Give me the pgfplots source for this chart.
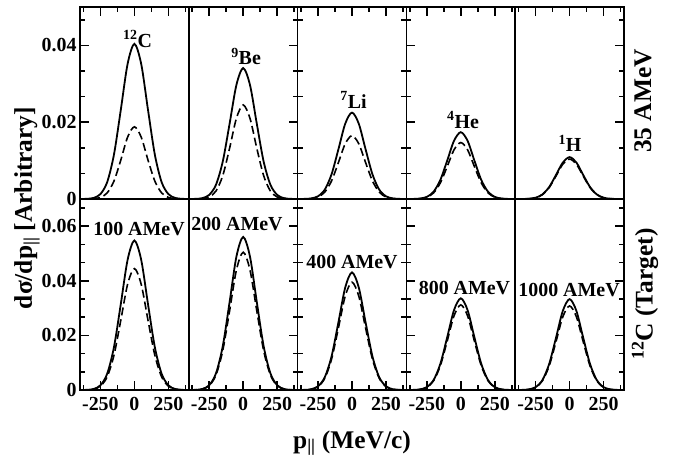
\documentclass[border=0pt]{standalone}
\usepackage{fontspec}
\setmainfont{Liberation Serif}
\usepackage{pgfplots}
\pgfplotsset{compat=1.18}
\usepackage{pgfplotstable}

% 35 AMeV fragments: solid and dashed curves per fragment
\pgfplotstableread{
x    cs      cd      bes     bed     lis     lid     hes     hed     hs      hd
-400 0.00001 0.00000 0.00000 0.00000 0.00000 0.00000 0.00000 0.00000 0.00000 0.00000
-350 0.00005 0.00001 0.00004 0.00001 0.00003 0.00002 0.00002 0.00002 0.00001 0.00001
-300 0.00028 0.00007 0.00023 0.00010 0.00015 0.00011 0.00012 0.00010 0.00007 0.00007
-250 0.00127 0.00040 0.00107 0.00052 0.00071 0.00052 0.00055 0.00046 0.00034 0.00033
-200 0.00440 0.00159 0.00372 0.00208 0.00245 0.00180 0.00190 0.00160 0.00119 0.00113
-150 0.01162 0.00469 0.00980 0.00611 0.00647 0.00474 0.00500 0.00423 0.00313 0.00299
-100 0.02322 0.01014 0.01960 0.01322 0.01293 0.00948 0.01000 0.00845 0.00626 0.00598
-50  0.03518 0.01611 0.02969 0.02100 0.01959 0.01437 0.01515 0.01280 0.00949 0.00906
0    0.04040 0.01880 0.03410 0.02450 0.02250 0.01650 0.01740 0.01470 0.01090 0.01040
50   0.03518 0.01611 0.02969 0.02100 0.01959 0.01437 0.01515 0.01280 0.00949 0.00906
100  0.02322 0.01014 0.01960 0.01322 0.01293 0.00948 0.01000 0.00845 0.00626 0.00598
150  0.01162 0.00469 0.00980 0.00611 0.00647 0.00474 0.00500 0.00423 0.00313 0.00299
200  0.00440 0.00159 0.00372 0.00208 0.00245 0.00180 0.00190 0.00160 0.00119 0.00113
250  0.00127 0.00040 0.00107 0.00052 0.00071 0.00052 0.00055 0.00046 0.00034 0.00033
300  0.00028 0.00007 0.00023 0.00010 0.00015 0.00011 0.00012 0.00010 0.00007 0.00007
350  0.00005 0.00001 0.00004 0.00001 0.00003 0.00002 0.00002 0.00002 0.00001 0.00001
400  0.00001 0.00000 0.00000 0.00000 0.00000 0.00000 0.00000 0.00000 0.00000 0.00000
}\toprow

% 12C target at 100 ... 1000 AMeV
\pgfplotstableread{
x    as      ad      bs      bd      cs      cd      ds      dd      es      ed
-400 0.00001 0.00001 0.00001 0.00001 0.00001 0.00001 0.00000 0.00000 0.00000 0.00000
-350 0.00006 0.00005 0.00006 0.00006 0.00005 0.00004 0.00004 0.00004 0.00004 0.00003
-300 0.00037 0.00030 0.00038 0.00035 0.00029 0.00027 0.00023 0.00021 0.00023 0.00021
-250 0.00172 0.00140 0.00176 0.00158 0.00135 0.00124 0.00105 0.00098 0.00104 0.00097
-200 0.00597 0.00485 0.00612 0.00551 0.00470 0.00431 0.00366 0.00340 0.00363 0.00336
-150 0.01576 0.01279 0.01613 0.01452 0.01239 0.01136 0.00966 0.00897 0.00957 0.00886
-100 0.03149 0.02557 0.03224 0.02902 0.02477 0.02270 0.01931 0.01793 0.01914 0.01770
-50  0.04771 0.03875 0.04885 0.04397 0.03753 0.03439 0.02926 0.02717 0.02899 0.02682
0    0.05480 0.04450 0.05610 0.05050 0.04310 0.03950 0.03360 0.03120 0.03330 0.03080
50   0.04771 0.03875 0.04885 0.04397 0.03753 0.03439 0.02926 0.02717 0.02899 0.02682
100  0.03149 0.02557 0.03224 0.02902 0.02477 0.02270 0.01931 0.01793 0.01914 0.01770
150  0.01576 0.01279 0.01613 0.01452 0.01239 0.01136 0.00966 0.00897 0.00957 0.00886
200  0.00597 0.00485 0.00612 0.00551 0.00470 0.00431 0.00366 0.00340 0.00363 0.00336
250  0.00172 0.00140 0.00176 0.00158 0.00135 0.00124 0.00105 0.00098 0.00104 0.00097
300  0.00037 0.00030 0.00038 0.00035 0.00029 0.00027 0.00023 0.00021 0.00023 0.00021
350  0.00006 0.00005 0.00006 0.00006 0.00005 0.00004 0.00004 0.00004 0.00004 0.00003
400  0.00001 0.00001 0.00001 0.00001 0.00001 0.00001 0.00000 0.00000 0.00000 0.00000
}\botrow

\newcommand{\tickfont}{\fontsize{20}{20}\selectfont\bfseries}
\newcommand{\labfont}{\fontsize{20}{20}\selectfont\bfseries}
\newcommand{\axfont}{\fontsize{25.5}{25.5}\selectfont\bfseries}

\tikzset{lab/.style={font=\labfont, anchor=base}}

\pgfplotsset{
  panel/.style={
    scale only axis, width=108.8bp, anchor=north west,
    xmin=-400, xmax=400, ymin=0,
    xtick={-250,0,250}, minor xtick={-375,-125,125,375},
    scaled x ticks=false, scaled y ticks=false,
    axis line style={line width=1.7bp},
    tick align=inside,
    xtick style={draw=black, line width=1.6bp},
    ytick style={draw=black, line width=1.6bp},
    major tick length=9bp, minor tick length=5bp,
    tick label style={font=\tickfont},
    clip=false,
  },
  top/.style={panel, height=192bp, ymax=0.05,
    ytick={0,0.02,0.04},
    minor ytick={0.006667,0.013333,0.026667,0.033333,0.046667},
    xtick pos=upper, xticklabel=\empty},
  bot/.style={panel, height=191bp, ymax=0.07,
    ytick={0,0.02,0.04,0.06},
    minor ytick={0.006667,0.013333,0.026667,0.033333,0.046667,0.053333,0.066667},
    xtick pos=lower,
    xticklabels={\textbf{-250},\textbf{0},\textbf{250}},
    xticklabel style={yshift=-4bp}},
  yl/.style={ytick pos=left},
  yr/.style={ytick pos=right, yticklabel=\empty},
  yln/.style={ytick pos=left, yticklabel=\empty},
  yn/.style={ymajorticks=false, yminorticks=false},
  sol/.style={black, line width=1.8bp, smooth, no markers},
  das/.style={black, line width=1.6bp, smooth, no markers, dash pattern=on 8bp off 4bp},
}

\begin{document}
\begin{tikzpicture}
% upper row: fragments at 35 AMeV
\begin{axis}[top, yl, at={(80bp,-7bp)},
  yticklabels={\textbf{0},\textbf{0.02},\textbf{0.04}}]
  \addplot[sol] table[x=x, y=cs] {\toprow};
  \addplot[das] table[x=x, y=cd] {\toprow};
  \node[lab] at (axis cs:23,0.0395) {\textsuperscript{12}C};
\end{axis}
\begin{axis}[top, yr, at={(188.8bp,-7bp)}]
  \addplot[sol] table[x=x, y=bes] {\toprow};
  \addplot[das] table[x=x, y=bed] {\toprow};
  \node[lab] at (axis cs:21,0.0349) {\textsuperscript{9}Be};
\end{axis}
\begin{axis}[top, yn, at={(297.6bp,-7bp)}]
  \addplot[sol] table[x=x, y=lis] {\toprow};
  \addplot[das] table[x=x, y=lid] {\toprow};
  \node[lab] at (axis cs:11,0.0236) {\textsuperscript{7}Li};
\end{axis}
\begin{axis}[top, yln, at={(406.4bp,-7bp)}]
  \addplot[sol] table[x=x, y=hes] {\toprow};
  \addplot[das] table[x=x, y=hed] {\toprow};
  \node[lab] at (axis cs:16,0.0184) {\textsuperscript{4}He};
\end{axis}
\begin{axis}[top, yr, at={(515.2bp,-7bp)}]
  \addplot[sol] table[x=x, y=hs] {\toprow};
  \addplot[das] table[x=x, y=hd] {\toprow};
  \node[lab] at (axis cs:3,0.0123) {\textsuperscript{1}H};
\end{axis}

% lower row: 12C target at several beam energies
\begin{axis}[bot, yl, at={(80bp,-199bp)},
  yticklabels={\textbf{0},\textbf{0.02},\textbf{0.04},\textbf{0.06}}]
  \addplot[sol] table[x=x, y=as] {\botrow};
  \addplot[das] table[x=x, y=ad] {\botrow};
  \node[lab] at (axis cs:34,0.0568) {100 AMeV};
\end{axis}
\begin{axis}[bot, yr, at={(188.8bp,-199bp)}]
  \addplot[sol] table[x=x, y=bs] {\botrow};
  \addplot[das] table[x=x, y=bd] {\botrow};
  \node[lab] at (axis cs:-46,0.0586) {200 AMeV};
\end{axis}
\begin{axis}[bot, yn, at={(297.6bp,-199bp)}]
  \addplot[sol] table[x=x, y=cs] {\botrow};
  \addplot[das] table[x=x, y=cd] {\botrow};
  \node[lab] at (axis cs:0,0.0446) {400 AMeV};
\end{axis}
\begin{axis}[bot, yln, at={(406.4bp,-199bp)}]
  \addplot[sol] table[x=x, y=ds] {\botrow};
  \addplot[das] table[x=x, y=dd] {\botrow};
  \node[lab] at (axis cs:27,0.0351) {800 AMeV};
\end{axis}
\begin{axis}[bot, yr, at={(515.2bp,-199bp)}]
  \addplot[sol] table[x=x, y=es] {\botrow};
  \addplot[das] table[x=x, y=ed] {\botrow};
  \node[lab] at (axis cs:-4,0.0342) {1000 AMeV};
\end{axis}

% shared labels
\node[rotate=90, font=\axfont] at (27bp,-208bp) {dσ/dp\textsubscript{||} [Arbitrary]};
\node[font=\axfont] at (352bp,-443bp) {p\textsubscript{||} (MeV/c)};
\node[rotate=90, font=\axfont] at (643bp,-101bp) {35 AMeV};
\node[rotate=90, font=\axfont] at (645bp,-294bp) {\textsuperscript{12}C (Target)};

% page frame
\path (0,0) rectangle (687bp,-459bp);
\end{tikzpicture}
\end{document}
